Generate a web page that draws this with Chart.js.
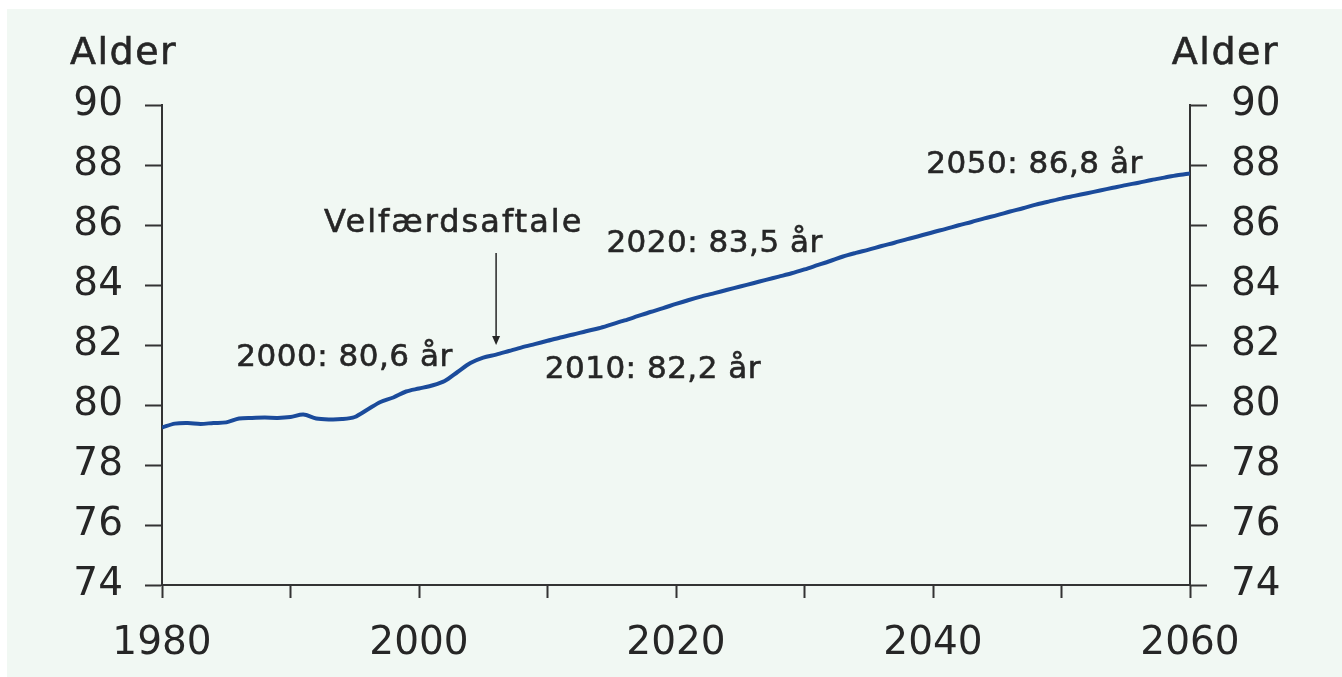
<!DOCTYPE html>
<html>
<head>
<meta charset="utf-8">
<script src="https://cdn.jsdelivr.net/npm/chart.js@4/dist/chart.umd.min.js"></script>
<style>
  html, body { margin: 0; padding: 0; background: #ffffff; }
  #wrap { width: 1342px; height: 677px; }
</style>
</head>
<body>
<div id="wrap"><canvas id="alder" width="1342" height="677"></canvas></div>
<script>
// Levetid (alder) 1980-2060
const years = [];
for (let y = 1980; y <= 2060; y++) years.push(y);

const ages = [
  79.25, 79.38, 79.40, 79.37, 79.40, 79.42, 79.55, 79.57, 79.58, 79.57,
  79.60, 79.68, 79.55, 79.52, 79.53, 79.60, 79.85, 80.10, 80.25, 80.45,
  80.55, 80.65, 80.80, 81.10, 81.40, 81.58, 81.68, 81.80, 81.92, 82.03,
  82.14, 82.25, 82.35, 82.46, 82.56, 82.69, 82.82, 82.96, 83.10, 83.23,
  83.37, 83.50, 83.62, 83.73, 83.84, 83.95, 84.06, 84.17, 84.28, 84.39,
  84.52, 84.66, 84.80, 84.95, 85.07, 85.18, 85.30, 85.41, 85.53, 85.64,
  85.76, 85.87, 85.99, 86.10, 86.22, 86.33, 86.45, 86.56, 86.68, 86.78,
  86.88, 86.97, 87.06, 87.15, 87.24, 87.33, 87.41, 87.50, 87.58, 87.66,
  87.72
];

const yTicks = [74, 76, 78, 80, 82, 84, 86, 88, 90];
const xLabels = [1980, 2000, 2020, 2040, 2060];

// tekster i figuren (placeret i data-koordinater)
const noteTexts = ["2000: 80,6 år", "2010: 82,2 år", "2020: 83,5 år", "2050: 86,8 år", "Velfærdsaftale"];
const noteYears = [1994.2, 2018.2, 2023.0, 2047.9, 2002.7];
const noteAges = [81.57, 81.17, 85.37, 88.0, 86.03];
const arrowYear = 2006;
const arrowFrom = 85.07;
const arrowTo = 82.0;

const FONT = "'DejaVu Sans', Verdana, sans-serif";
const INK = '#262626';

const panel = {
  id: 'panel',
  beforeDraw(chart) {
    const c = chart.ctx;
    c.save();
    c.fillStyle = '#ffffff';
    c.fillRect(0, 0, chart.width, chart.height);
    c.fillStyle = '#f1f8f3';
    c.fillRect(7, 9, chart.width - 7, chart.height - 9);
    c.restore();
  }
};

const notes = {
  id: 'notes',
  afterDatasetsDraw(chart) {
    const c = chart.ctx;
    const x = chart.scales.x, y = chart.scales.y;
    c.save();
    c.fillStyle = INK;
    c.strokeStyle = INK;
    c.lineWidth = 0.6;
    c.textAlign = 'center';
    c.textBaseline = 'middle';
    noteTexts.forEach((t, i) => {
      if (t === 'Velfærdsaftale') {
        c.font = '32px ' + FONT;
        c.letterSpacing = '2px';
      } else {
        c.font = '31px ' + FONT;
        c.letterSpacing = '0.5px';
      }
      const px = x.getPixelForValue(noteYears[i]);
      const py = y.getPixelForValue(noteAges[i]);
      c.fillText(t, px, py);
      c.strokeText(t, px, py);
    });

    // Alder over begge akser
    c.font = '38px ' + FONT;
    c.letterSpacing = '1.5px';
    c.textAlign = 'left';
    c.fillText('Alder', 70, 54);
    c.strokeText('Alder', 70, 54);
    c.textAlign = 'right';
    c.fillText('Alder', 1279, 54);
    c.strokeText('Alder', 1279, 54);

    // pil ved velfærdsaftalen
    const ax = x.getPixelForValue(arrowYear);
    const a0 = y.getPixelForValue(arrowFrom);
    const a1 = y.getPixelForValue(arrowTo);
    c.lineWidth = 1.5;
    c.beginPath();
    c.moveTo(ax, a0);
    c.lineTo(ax, a1 - 4);
    c.stroke();
    c.beginPath();
    c.moveTo(ax, a1);
    c.lineTo(ax - 4, a1 - 9);
    c.lineTo(ax + 4, a1 - 9);
    c.closePath();
    c.fill();
    c.restore();
  }
};

const yAxis = (pos) => ({
  type: 'linear',
  position: pos,
  min: 74,
  max: 90,
  afterBuildTicks: (s) => { s.ticks = yTicks.map(v => ({ value: v })); },
  afterFit: (s) => { s.width = pos === 'left' ? 162 : 152; },
  border: { display: true, color: '#333', width: 2 },
  grid: { drawOnChartArea: false, drawTicks: true, tickLength: 17, tickColor: '#333', tickWidth: 2 },
  ticks: {
    color: INK,
    padding: pos === 'left' ? 22 : 24,
    font: { family: FONT, size: 39 }
  }
});

new Chart(document.getElementById('alder'), {
  type: 'line',
  data: {
    datasets: [{
      data: years.map((yr, i) => ({ x: yr, y: ages[i] })),
      borderColor: '#1b4b9b',
      borderWidth: 4,
      pointRadius: 0,
      tension: 0.3,
      fill: false
    }]
  },
  options: {
    responsive: false,
    animation: false,
    layout: { padding: { top: 105, left: 0, right: 0, bottom: 0 } },
    plugins: { legend: { display: false }, tooltip: { enabled: false } },
    scales: {
      x: {
        type: 'linear',
        min: 1980,
        max: 2060,
        afterFit: (s) => { s.height = 92; },
        border: { display: true, color: '#333', width: 2 },
        grid: { drawOnChartArea: false, drawTicks: true, tickLength: 13, tickColor: '#333', tickWidth: 2 },
        ticks: {
          stepSize: 10,
          autoSkip: false,
          maxRotation: 0,
          color: INK,
          padding: 22,
          font: { family: FONT, size: 39 },
          callback: (v) => xLabels.includes(v) ? String(v) : ''
        }
      },
      y: yAxis('left'),
      y2: yAxis('right')
    }
  },
  plugins: [panel, notes]
});
</script>
</body>
</html>
